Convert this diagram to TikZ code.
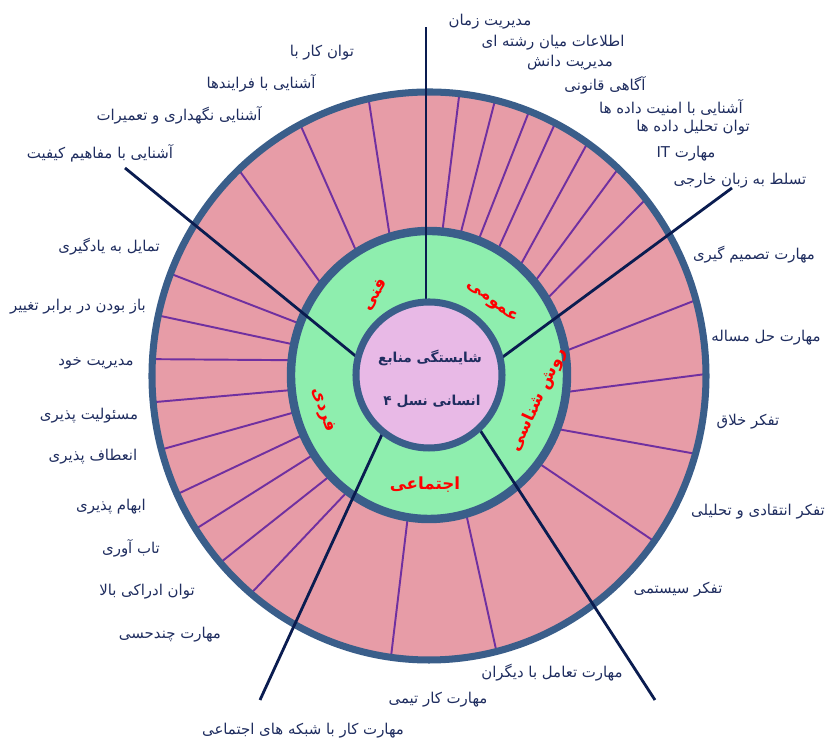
\documentclass[tikz,border=0pt]{standalone}
\usepackage{fontspec}
\usepackage{xcolor}
\usepackage{tikz}
\usetikzlibrary{positioning}
\newfontfamily\arabicfont[Script=Arabic]{DejaVu Sans}
\TeXXeTstate=1
\newcommand{\fatext}[1]{{\arabicfont\beginR #1\endR}}

\definecolor{outerpink}{RGB}{231,156,167}
\definecolor{ringgreen}{RGB}{142,238,174}
\definecolor{corepink}{RGB}{232,185,230}
\definecolor{rimblue}{RGB}{58,94,138}
\definecolor{spokepurple}{RGB}{112,48,160}
\definecolor{leadnavy}{RGB}{10,28,80}
\definecolor{textnavy}{RGB}{31,45,95}

\tikzset{
  skill/.style={text=textnavy, font=\fontsize{8.5}{10}\selectfont, inner sep=1pt},
  group/.style={text=red, font=\fontsize{9.5}{11}\selectfont\bfseries, inner sep=1pt},
  core text/.style={text=textnavy, font=\fontsize{7.8}{10}\selectfont\bfseries, inner sep=1pt},
  spoke/.style={spokepurple, line width=1.1pt},
  lead/.style={leadnavy, line width=1.6pt},
  rim/.style={rimblue, line width=4pt},
}

\begin{document}
\begin{tikzpicture}[x=0.02cm, y=0.02cm]
        \useasboundingbox (-429,-366) rectangle (400,376);

        % Outer ring of skills, cut by the spokes
        \fill[outerpink] (0,0) ellipse [x radius=277, y radius=284];
        \foreach \a/\b in {84.5/83.7, 77/76.2, 69.2/68.8, 60.3/62.9, 49.1/55.1, 40.4/46.9, 32/38.5,
                           9.9/15.5, -6.4/0.4, -21.6/-15.9, -37.3/-35.6,
                           -74.3/-75.9, -98.9/-97.9,
                           158.8/158.9, 167.4/167.7, 173.7/176.6, 185.6/185.3, 194.5/195,
                           204.1/204.6, 213.1/212.6, 224/221.1, 233.6/230,
                           106.4/102.6, 121.4/117.7, 140.8/133.4}
          \draw[spoke] (\a:138 and 144) -- (\b:277 and 284);
        \draw[rim] (0,0) ellipse [x radius=277, y radius=284];

        % Ring of the five groups
        \filldraw[rim, line width=4.8pt, fill=ringgreen] (0,1) ellipse [x radius=138, y radius=144];

        % Lines between the groups
        \coordinate (L1) at (-3,70);   \coordinate (L1e) at (-3,349);
        \coordinate (L2) at (71,17);   \coordinate (L2e) at (303,188);
        \coordinate (L3) at (49,-51);  \coordinate (L3e) at (226,-324);
        \coordinate (L4) at (-45,-54); \coordinate (L4e) at (-169,-324);
        \coordinate (L5) at (-71,18);  \coordinate (L5e) at (-304,208);
        \foreach \l in {L1,L2,L3,L4,L5}
          \draw[lead] (\l) -- (\l e);

        % Core
        \filldraw[rim, fill=corepink] (0,1) circle [radius=73];
        \node[core text] (title1) at (1,18) {\fatext{شایستگی منابع}};
        \node[core text] (title2) at (3,-26) {\fatext{انسانی نسل ۴}};

        % Group names
        \node[group, rotate=58]  (fanni)   at (-54,81)  {\fatext{فنی}};
        \node[group, rotate=-38] (omumi)   at (63,74)   {\fatext{عمومی}};
        \node[group, rotate=65]  (ravesh)  at (109,-24) {\fatext{روش شناسی}};
        \node[group, rotate=-70] (fardi)   at (-106,-34) {\fatext{فردی}};
        \node[group]             (ejtemai) at (-4,-109) {\fatext{اجتماعی}};

        % Skills
        \node[skill] (s1)  at (61,354)   {\fatext{مدیریت زمان}};
        \node[skill] (s2)  at (124,333)  {\fatext{اطلاعات میان رشته ای}};
        \node[skill] (s3)  at (141,313)  {\fatext{مدیریت دانش}};
        \node[skill] (s4)  at (176,291)  {\fatext{آگاهی قانونی}};
        \node[skill] (s5)  at (242,268)  {\fatext{آشنایی با امنیت داده ها}};
        \node[skill] (s6)  at (264,248)  {\fatext{توان تحلیل داده ها}};
        \node[skill] (s7)  at (257,222)  {\fatext{مهارت \beginL IT\endL}};
        \node[skill] (s8)  at (311,195)  {\fatext{تسلط به زبان خارجی}};
        \node[skill] (s9)  at (325,121)  {\fatext{مهارت تصمیم گیری}};
        \node[skill] (s10) at (337,38)   {\fatext{مهارت حل مساله}};
        \node[skill] (s11) at (319,-46)  {\fatext{تفکر خلاق}};
        \node[skill] (s12) at (329,-136) {\fatext{تفکر انتقادی و تحلیلی}};
        \node[skill] (s13) at (249,-214) {\fatext{تفکر سیستمی}};
        \node[skill] (s14) at (123,-297) {\fatext{مهارت تعامل با دیگران}};
        \node[skill] (s15) at (9,-324)   {\fatext{مهارت کار تیمی}};
        \node[skill] (s16) at (-126,-355) {\fatext{مهارت کار با شبکه های اجتماعی}};
        \node[skill] (s17) at (-259,-259) {\fatext{مهارت چندحسی}};
        \node[skill] (s18) at (-282,-216) {\fatext{توان ادراکی بالا}};
        \node[skill] (s19) at (-298,-172) {\fatext{تاب آوری}};
        \node[skill] (s20) at (-318,-131) {\fatext{ابهام پذیری}};
        \node[skill] (s21) at (-336,-81)  {\fatext{انعطاف پذیری}};
        \node[skill] (s22) at (-340,-40)  {\fatext{مسئولیت پذیری}};
        \node[skill] (s23) at (-333,13)   {\fatext{مدیریت خود}};
        \node[skill] (s24) at (-351,69)   {\fatext{باز بودن در برابر تغییر}};
        \node[skill] (s25) at (-320,129)  {\fatext{تمایل به یادگیری}};
        \node[skill] (s26) at (-329,223)  {\fatext{آشنایی با مفاهیم کیفیت}};
        \node[skill] (s27) at (-250,261)  {\fatext{آشنایی نگهداری و تعمیرات}};
        \node[skill] (s28) at (-168,293)  {\fatext{آشنایی با فرایندها}};
        \node[skill] (s29) at (-107,323)  {\fatext{توان کار با}};
\end{tikzpicture}
\end{document}
